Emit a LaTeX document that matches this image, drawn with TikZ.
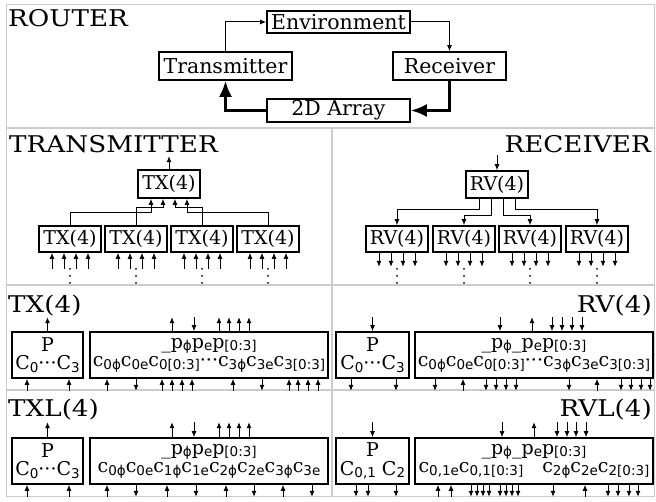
\documentclass[tikz,border=0pt]{standalone}
\usepackage{fontspec}
\setmainfont{DejaVu Serif}
\newfontfamily\subfont{DejaVu Sans}
\newfontfamily\titlefont[FakeStretch=1.14]{DejaVu Serif}
\usetikzlibrary{arrows,arrows.meta,positioning,calc}

% lowered sans subscript
\newcommand{\sbs}[1]{\raisebox{-2.5pt}{\subfont\fontsize{13.5}{13.5}\selectfont #1}}

\begin{document}
\begin{tikzpicture}[
    x=1pt, y=-1pt,
    grid/.style={draw=black!20, line width=1.5pt},
    title/.style={inner sep=0pt, font=\titlefont\fontsize{23}{23}\selectfont},
    rbox/.style={draw, line width=1.6pt, inner sep=0pt, minimum height=23pt, font=\fontsize{20.5}{20.5}\selectfont},
    tbox/.style={draw, line width=1.6pt, inner sep=0pt, minimum width=62pt, minimum height=26pt, font=\fontsize{19}{19}\selectfont},
    cbox/.style={draw, line width=1.6pt, inner sep=0pt, minimum height=46pt, align=center, font=\fontsize{19}{18.5}\selectfont},
    arrow/.style={-{Latex[length=6pt,width=5pt]}, line width=1pt},
    bigarrow/.style={-{Latex[length=16pt,width=13pt]}, line width=2.8pt}
]
    \useasboundingbox (0,0) rectangle (656,502);

    % Panel grid
    \draw[grid] (6.5,4.5) rectangle (654.5,496.5);
    \draw[grid] (6.5,128) -- (654.5,128);
    \draw[grid] (6.5,285) -- (654.5,285);
    \draw[grid] (6.5,390) -- (654.5,390);
    \draw[grid] (332,128) -- (332,496.5);

    % Titles
    \node[title, anchor=base west] (router) at (8,27) {ROUTER};
    \node[title, anchor=base west] (transmitter) at (9,153) {TRANSMITTER};
    \node[title, anchor=base east] (receiver) at (651,153) {RECEIVER};
    \node[title, anchor=base west] (txtitle) at (8,313) {TX(4)};
    \node[title, anchor=base east] (rvtitle) at (652,313) {RV(4)};
    \node[title, anchor=base west] (txltitle) at (8,417) {TXL(4)};
    \node[title, anchor=base east] (rvltitle) at (652,417) {RVL(4)};

    % Router loop
    \node[rbox, minimum width=143pt, minimum height=22pt] (env) at (338.5,22) {Environment};
    \node[rbox, minimum width=133pt, minimum height=28pt] (trans) at (225.5,66) {Transmitter};
    \node[rbox, minimum width=113pt, minimum height=28pt] (recv) at (449.5,66) {Receiver};
    \node[rbox, minimum width=143pt] (array) at (338.5,110.5) {2D Array};

    \draw[arrow] (trans.north) |- (env.west);
    \draw[arrow] (env.east) -| (recv.north);
    \draw[bigarrow] (recv.south) |- (array.east);
    \draw[bigarrow] (array.west) -| (trans.south);

    % Transmitter tree
    \node[tbox, minimum height=28pt] (txtop) at (169,184) {TX(4)};
    \foreach \i/\x in {1/70,2/136,3/202,4/268}
        \node[tbox] (tx\i) at (\x,239) {TX(4)};
    \draw[arrow] (txtop.north) -- ++(0,-13);
    \draw[arrow] (tx1.north) -- ++(0,-13) -| ([xshift=-18pt]txtop.south);
    \draw[arrow] (tx2.north) -- ++(0,-18) -| ([xshift=-6pt]txtop.south);
    \draw[arrow] (tx3.north) -- ++(0,-18) -| ([xshift=6pt]txtop.south);
    \draw[arrow] (tx4.north) -- ++(0,-13) -| ([xshift=18pt]txtop.south);
    \foreach \b in {tx1,tx2,tx3,tx4}
        \foreach \dx in {-18,-6,6,18}
            \draw[arrow] ($(\b.south)+(\dx,16)$) -- ++(0,-16);

    % Receiver tree
    \node[tbox, minimum height=27pt] (rvtop) at (497,184.5) {RV(4)};
    \foreach \i/\x in {1/397,2/464,3/530,4/597}
        \node[tbox] (rv\i) at (\x,239) {RV(4)};
    \draw[arrow] (rvtop.north) ++(0,-15) -- ++(0,15);
    \draw[arrow] ([xshift=-18pt]rvtop.south) -- ++(0,11) -| (rv1.north);
    \draw[arrow] ([xshift=-6pt]rvtop.south) -- ++(0,17) -| (rv2.north);
    \draw[arrow] ([xshift=6pt]rvtop.south) -- ++(0,17) -| (rv3.north);
    \draw[arrow] ([xshift=18pt]rvtop.south) -- ++(0,11) -| (rv4.north);
    \foreach \b in {rv1,rv2,rv3,rv4}
        \foreach \dx in {-18,-6,6,18}
            \draw[arrow] ($(\b.south)+(\dx,0)$) -- ++(0,14);

    % vertical ellipses under the leaves
    \foreach \b in {tx1,tx2,tx3,tx4,rv1,rv2,rv3,rv4}
        \foreach \d in {16,23,30}
            \fill ($(\b.south)+(0,\d)$) circle (1pt);

    % TX(4)
    \node[cbox, minimum width=71pt] (txp) at (47.5,355) {P\\C\sbs{0}···C\sbs{3}};
    \node[cbox, minimum width=238pt] (txd) at (209,355)
        {\_p\sbs{ϕ}p\sbs{e}p\sbs{[0:3]}\\c\sbs{0ϕ}c\sbs{0e}c\sbs{0[0:3]}···c\sbs{3ϕ}c\sbs{3e}c\sbs{3[0:3]}};
    \draw[arrow] (txp.north) -- ++(0,-14);
    \foreach \x in {27,69}
        \draw[arrow] (txp.south -| \x,0) ++(0,12) -- ++(0,-12);
    \foreach \x in {172,219,229,239,249}
        \draw[arrow] (txd.north -| \x,0) -- ++(0,-14);
    \foreach \x in {194}
        \draw[arrow] (txd.north -| \x,0) ++(0,-14) -- ++(0,14);
    \foreach \x in {107,162,172,182,192,233,289,298,308,318}
        \draw[arrow] (txd.south -| \x,0) ++(0,12) -- ++(0,-12);
    \foreach \x in {136,262}
        \draw[arrow] (txd.south -| \x,0) -- ++(0,12);

    % RV(4)
    \node[cbox, minimum width=73pt] (rvp) at (372.5,355) {P\\C\sbs{0}···C\sbs{3}};
    \node[cbox, minimum width=238pt] (rvd) at (534,355)
        {\_p\sbs{ϕ}\_p\sbs{e}p\sbs{[0:3]}\\c\sbs{0ϕ}c\sbs{0e}c\sbs{0[0:3]}···c\sbs{3ϕ}c\sbs{3e}c\sbs{3[0:3]}};
    \draw[arrow] (rvp.north) ++(0,-14) -- ++(0,14);
    \foreach \x in {351,396}
        \draw[arrow] (rvp.south -| \x,0) -- ++(0,12);
    \foreach \x in {532}
        \draw[arrow] (rvd.north -| \x,0) -- ++(0,-14);
    \foreach \x in {500,552,562,572,582}
        \draw[arrow] (rvd.north -| \x,0) ++(0,-14) -- ++(0,14);
    \foreach \x in {463,597}
        \draw[arrow] (rvd.south -| \x,0) ++(0,12) -- ++(0,-12);
    \foreach \x in {435,486,496,506,516,569,621,631,641,650}
        \draw[arrow] (rvd.south -| \x,0) -- ++(0,12);

    % TXL(4)
    \node[cbox, minimum width=71pt] (txlp) at (47.5,461) {P\\C\sbs{0}···C\sbs{3}};
    \node[cbox, minimum width=238pt] (txld) at (209,461)
        {\_p\sbs{ϕ}p\sbs{e}p\sbs{[0:3]}\\c\sbs{0ϕ}c\sbs{0e}c\sbs{1ϕ}c\sbs{1e}c\sbs{2ϕ}c\sbs{2e}c\sbs{3ϕ}c\sbs{3e}};
    \draw[arrow] (txlp.north) -- ++(0,-15);
    \foreach \x in {27,69}
        \draw[arrow] (txlp.south -| \x,0) ++(0,12) -- ++(0,-12);
    \foreach \x in {172,219,229,239,249}
        \draw[arrow] (txld.north -| \x,0) -- ++(0,-15);
    \foreach \x in {194}
        \draw[arrow] (txld.north -| \x,0) ++(0,-15) -- ++(0,15);
    \foreach \x in {107,167,226,283}
        \draw[arrow] (txld.south -| \x,0) ++(0,12) -- ++(0,-12);
    \foreach \x in {136,196,254,312}
        \draw[arrow] (txld.south -| \x,0) -- ++(0,12);

    % RVL(4)
    \node[cbox, minimum width=73pt] (rvlp) at (372.5,461) {P\\C\sbs{0,1} C\sbs{2}};
    \node[cbox, minimum width=238pt] (rvld) at (534,461)
        {\_p\sbs{ϕ}\_p\sbs{e}p\sbs{[0:3]}\\c\sbs{0,1e}c\sbs{0,1[0:3]}\hspace{19pt}c\sbs{2ϕ}c\sbs{2e}c\sbs{2[0:3]}};
    \draw[arrow] (rvlp.north) ++(0,-15) -- ++(0,15);
    \foreach \x in {356,368,396}
        \draw[arrow] (rvlp.south -| \x,0) -- ++(0,12);
    \foreach \x in {534}
        \draw[arrow] (rvld.north -| \x,0) -- ++(0,-15);
    \foreach \x in {502,557,567,576,586}
        \draw[arrow] (rvld.north -| \x,0) ++(0,-15) -- ++(0,15);
    \foreach \x in {438,451,585}
        \draw[arrow] (rvld.south -| \x,0) ++(0,12) -- ++(0,-12);
    \foreach \x in {471,477,483,489,500,506,512,518,553,608,618,629,638}
        \draw[arrow] (rvld.south -| \x,0) -- ++(0,12);

\end{tikzpicture}
\end{document}
